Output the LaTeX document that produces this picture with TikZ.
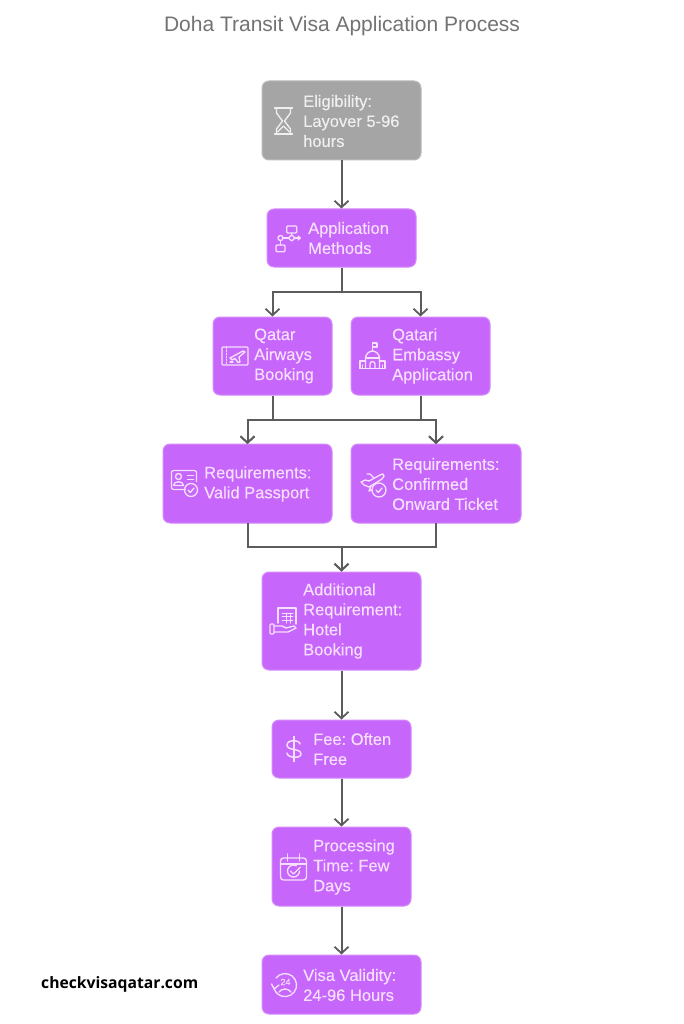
\documentclass[tikz,border=0pt]{standalone}
\usepackage{fontspec}
\setmainfont{Liberation Sans}[FakeBold=0.25]
\newfontfamily\titlefont{Liberation Sans}
\newfontfamily\sitefont{Open Sans}
\usetikzlibrary{arrows.meta,calc}
\definecolor{boxpurple}{HTML}{C766FA}
\definecolor{boxgray}{HTML}{A5A5A5}
\definecolor{inkpale}{HTML}{F6DFFF}
\definecolor{graypale}{HTML}{EFEFEF}
\definecolor{linegray}{HTML}{5C5C5C}
\definecolor{titlegray}{HTML}{737373}
\tikzset{
  x=1pt,y=-1pt,
  stepbox/.style={draw=#1!75!white,fill=#1,line width=1pt,rounded corners=7pt,inner sep=0pt},
  stepbox/.default=boxpurple,
  steptext/.style={anchor=west,align=left,inner sep=0pt,text=inkpale,font=\fontsize{16.5}{20}\selectfont},
  conn/.style={draw=linegray,line width=2pt},
  arrowconn/.style={conn,-{Straight Barb[length=6.5pt,width=14pt,line width=1.8pt]}},
  iconline/.style={draw=inkpale,line width=1.35pt,line join=round,line cap=round,fill=none}
}
\newcommand{\stepnode}[7][boxpurple]{%
  \node[stepbox=#1,minimum width=#5-#3,minimum height=#6-#4] (#2) at ({(#3+#5)/2},{(#4+#6)/2}) {};
}
\begin{document}
\frenchspacing
\begin{tikzpicture}
\useasboundingbox (0,0) rectangle (683,1024);
\fill[white] (0,0) rectangle (683,1024);

\node[text=titlegray,font=\titlefont\fontsize{21}{24}\selectfont,inner sep=0pt] (title) at (342,26) {Doha Transit Visa Application Process};
\node[text=black,font=\sitefont\fontsize{15.7}{18}\selectfont\bfseries,inner sep=0pt,anchor=west] (site) at (41,984.5) {checkvisaqatar.com};

\stepnode[boxgray]{elig}{262}{81}{421}{160}{}
\stepnode{meth}{267}{209}{416}{267}{}
\stepnode{qair}{213}{317}{332}{395}{}
\stepnode{qemb}{351}{317}{490}{395}{}
\stepnode{rpass}{163}{444}{332}{523}{}
\stepnode{rtick}{351}{444}{521}{523}{}
\stepnode{hotel}{262}{572}{421}{670}{}
\stepnode{fee}{272}{720}{411}{778}{}
\stepnode{proc}{272}{827}{411}{906}{}
\stepnode{valid}{262}{955}{421}{1014}{}

\node[steptext,text=graypale] (eligT) at (303,121) {Eligibility:\\Layover 5-96\\hours};
\node[steptext] (methT) at (308,238) {Application\\Methods};
\node[steptext] (qairT) at (254,356) {Qatar\\Airways\\Booking};
\node[steptext] (qembT) at (392,356) {Qatari\\Embassy\\Application};
\node[steptext] (rpassT) at (204,484) {Requirements:\\Valid Passport};
\node[steptext] (rtickT) at (392,484) {Requirements:\\Confirmed\\Onward Ticket};
\node[steptext] (hotelT) at (303,621) {Additional\\Requirement:\\Hotel\\Booking};
\node[steptext] (feeT) at (313,749) {Fee: Often\\Free};
\node[steptext] (procT) at (313,867) {Processing\\Time: Few\\Days};
\node[steptext] (validT) at (303,985) {Visa Validity:\\24-96 Hours};

\coordinate (busA) at (341.5,292);
\coordinate (busB) at (341.5,420);
\coordinate (busC) at (341.5,547);
\coordinate (inPass) at (247.5,444);
\coordinate (inTick) at (436,444);
\coordinate (outPass) at (247.5,523);
\coordinate (outTick) at (436,523);
\draw[arrowconn] (elig.south) -- (meth.north);
\draw[arrowconn] (meth.south) -- (busA) -| (qair.north);
\draw[arrowconn] (meth.south) -- (busA) -| (qemb.north);
\draw[arrowconn] (qair.south) |- (busB) -| (inPass);
\draw[arrowconn] (qemb.south) |- (busB) -| (inTick);
\draw[arrowconn] (qair.south) |- (busB) -| (inTick);
\draw[arrowconn] (qemb.south) |- (busB) -| (inPass);
\draw[arrowconn] (outPass) |- (busC) -- (hotel.north);
\draw[arrowconn] (outTick) |- (busC) -- (hotel.north);
\draw[arrowconn] (hotel.south) -- (fee.north);
\draw[arrowconn] (fee.south) -- (proc.north);
\draw[arrowconn] (proc.south) -- (valid.north);

% hourglass
\begin{scope}[shift={(283.5,121)},iconline/.append style={draw=graypale}]
\draw[iconline] (-9,-13)--(9,-13) (-9,13)--(9,13);
\draw[iconline] (-7,-13)--(-7,-8)--(-1,0)--(-7,8)--(-7,13);
\draw[iconline] (7,-13)--(7,-8)--(1,0)--(7,8)--(7,13);
\draw[iconline] (-6,11)--(0,5)--(6,11);
\end{scope}
% flow chart
\begin{scope}[shift={(288,239)}]
\draw[iconline,rounded corners=1pt] (-1.3,-13) rectangle (8.7,-6);
\draw[iconline,rounded corners=1pt] (-12,6) rectangle (-3,12.7);
\draw[iconline] (3.7,-6)--(3.7,-4) (3.7,-4)--(7,-1)--(3.7,2)--(0.4,-1)--cycle;
\draw[iconline] (0.4,-1)--(-5,-1) (7,-1)--(12,-1);
\draw[iconline] (-7.5,-1) circle (2.5);
\draw[iconline] (-7.5,1.5)--(-7.5,6);
\draw[iconline] (10,-3)--(12.3,-1)--(10,1);
\end{scope}
% ticket
\begin{scope}[shift={(235,356)}]
\draw[iconline,rounded corners=1pt] (-13,-9) rectangle (13,9);
\draw[iconline,line width=1pt,dash pattern=on 1.5pt off 1.5pt] (-9,-9)--(-9,9);
\draw[iconline] (-5,2)--(8,-5)--(10,-4)--(4,1)--(5,6)--(3,6.5)--(0,2.5)--(-3,4)--cycle;
\draw[iconline] (-5,6)--(-2,6);
\end{scope}
% embassy
\begin{scope}[shift={(372.5,356)}]
\draw[iconline] (0,-13)--(0,-5);
\draw[iconline] (0,-13)--(4.5,-13)--(4.5,-9)--(0,-9);
\draw[iconline] (-7,12.5)--(-7,2) .. controls (-7,-2) and (-3,-5) .. (0,-5) .. controls (3,-5) and (7,-2) .. (7,2)--(7,12.5);
\draw[iconline] (-7,2)--(7,2);
\draw[iconline] (-12.5,12.5)--(12.5,12.5);
\draw[iconline] (-12.5,12.5)--(-12.5,5)--(-7,5) (12.5,12.5)--(12.5,5)--(7,5);
\draw[iconline] (-2.5,12.5)--(-2.5,8) arc (180:360:2.5) --(2.5,12.5);
\draw[iconline] (-10,12.5)--(-10,9) (10,12.5)--(10,9);
\end{scope}
% id card with check
\begin{scope}[shift={(184.5,483.5)}]
\draw[iconline,rounded corners=1.5pt] (1,6)--(-13,6)--(-13,-13)--(12,-13)--(12,-2);
\draw[iconline] (-6,-7) circle (3);
\draw[iconline] (-11,2) .. controls (-11,-3) and (-1,-3) .. (-1,2)--cycle;
\draw[iconline] (3,-8)--(9,-8) (3,-4)--(9,-4);
\draw[iconline] (6.5,6.5) circle (6.5);
\draw[iconline] (3.5,6.5)--(5.8,9)--(9.5,4.5);
\end{scope}
% plane with check
\begin{scope}[shift={(373,484)}]
\draw[iconline] (-12,-2)--(-8,-4)--(-4,-3)--(7,-9)--(10,-10)--(11,-8)--(9,-5)--(-4,3)--(-9,1)--cycle;
\draw[iconline] (-6,-10)--(-3,-10)--(1,-6);
\draw[iconline] (-2,2)--(-4,7)--(-1,6);
\draw[iconline] (6,6) circle (7);
\draw[iconline] (3,6)--(5.3,8.5)--(9,4);
\end{scope}
% hotel with hand
\begin{scope}[shift={(283,621)}]
\draw[iconline] (-5,2)--(-5,-13)--(13,-13)--(13,3);
\draw[iconline,line width=1pt] (-1,-8)--(10,-8) (-1,-4.5)--(10,-4.5) (-1,-1)--(10,-1);
\draw[iconline,line width=1pt] (3,-8)--(3,2) (7,-8)--(7,2);
\draw[iconline,rounded corners=1pt] (-13,3) rectangle (-9,13);
\draw[iconline] (-9,5)--(-1,5)--(3,7)--(11,5)--(13,7)--(5,11)--(-9,11);
\end{scope}
% dollar
\begin{scope}[shift={(294,749)}]
\draw[iconline,line width=1.5pt] (0,-12.5)--(0,12.5);
\draw[iconline,line width=1.5pt] (6,-5) .. controls (6,-9) and (-7,-10) .. (-7,-4) .. controls (-7,2) and (7,-1) .. (7,5) .. controls (7,10) and (-7,9) .. (-7,4);
\end{scope}
% calendar
\begin{scope}[shift={(293.5,867)}]
\draw[iconline,rounded corners=3pt] (-13,-9) rectangle (13,13);
\draw[iconline] (-13,-3)--(13,-3);
\draw[iconline] (-6,-13)--(-6,-6) (6,-13)--(6,-6);
\draw[iconline] (6,4) arc (0:300:6);
\draw[iconline] (-3,4)--(0,7)--(7,0);
\end{scope}
% 24 hours
\begin{scope}[shift={(285,985)}]
\draw[iconline] (-9,-7) arc (-142:160:11.5);
\draw[iconline] (-13.5,-1)--(-10.8,3.9)--(-6,0);
\node[inner sep=0pt,text=inkpale,font=\fontsize{9}{9}\selectfont] (clockT) at (0.5,-3) {24};
\draw[iconline] (-6,7) .. controls (-3,3) and (3,3) .. (6,7);
\end{scope}
\end{tikzpicture}
\end{document}
